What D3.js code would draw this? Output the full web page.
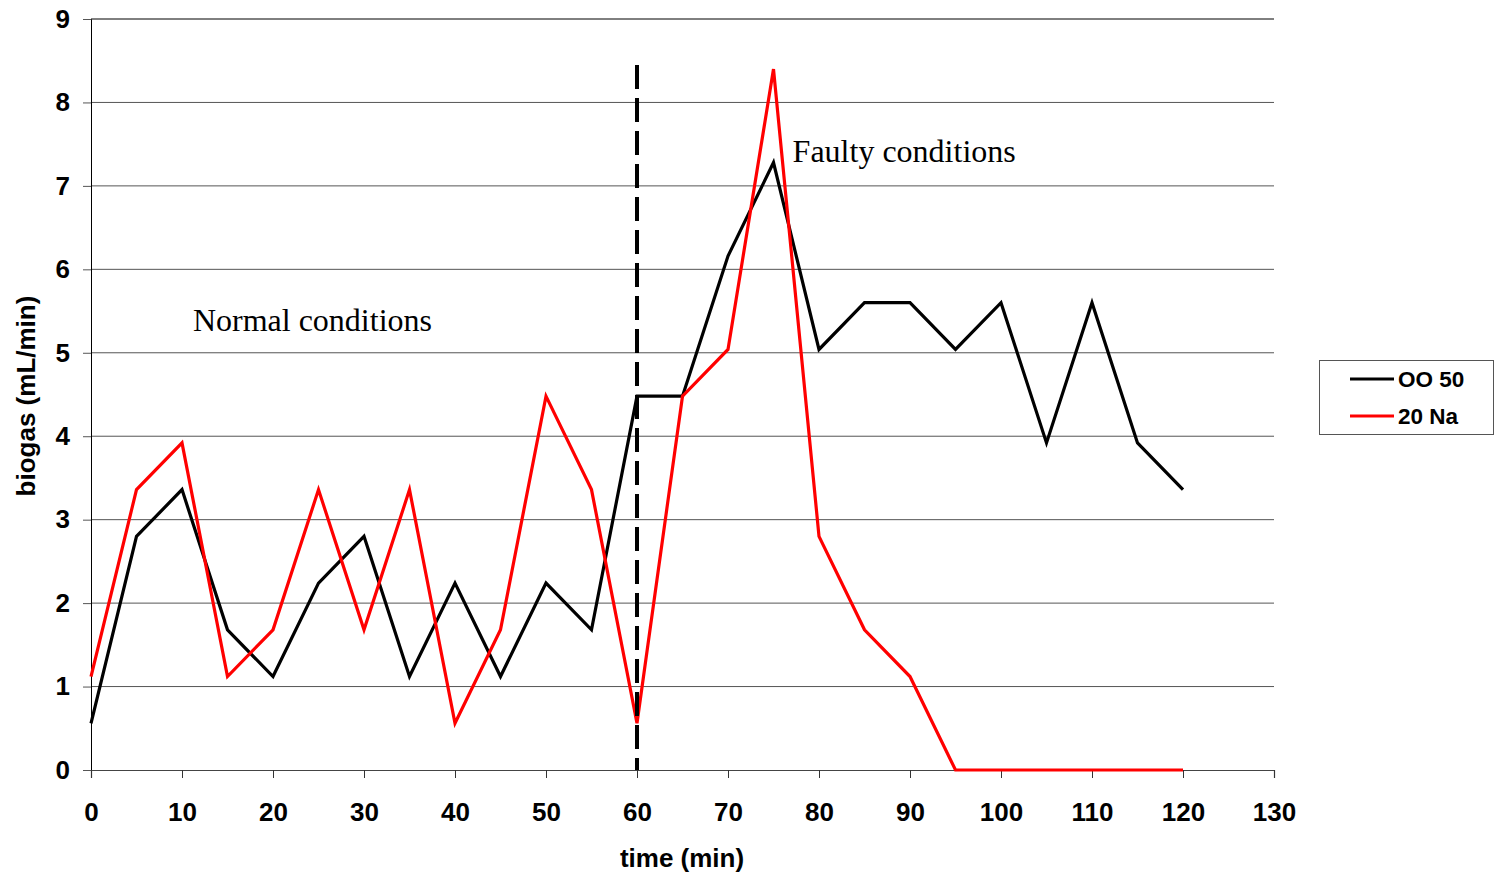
<!DOCTYPE html>
<html>
<head>
<meta charset="utf-8">
<script src="https://cdn.jsdelivr.net/npm/d3@7"></script>
<style>
  html, body { margin: 0; padding: 0; background: #fff; }
  svg { display: block; }
</style>
</head>
<body>
<svg id="chart" width="1495" height="878"></svg>
<script>
// Sampling times (min)
const times = [0, 5, 10, 15, 20, 25, 30, 35, 40, 45, 50, 55, 60,
               65, 70, 75, 80, 85, 90, 95, 100, 105, 110, 115, 120];

// Biogas production (mL/min)
const oo50 = [0.56, 2.80, 3.36, 1.68, 1.12, 2.24, 2.80, 1.12, 2.24, 1.12, 2.24, 1.68, 4.48,
              4.48, 6.16, 7.28, 5.04, 5.60, 5.60, 5.04, 5.60, 3.92, 5.60, 3.92, 3.36];
const na20 = [1.12, 3.36, 3.92, 1.12, 1.68, 3.36, 1.68, 3.36, 0.56, 1.68, 4.48, 3.36, 0.56,
              4.48, 5.04, 8.40, 2.80, 1.68, 1.12, 0, 0, 0, 0, 0, 0];

const seriesNames = ["OO 50", "20 Na"];
const seriesColors = ["#000000", "#ff0000"];

const xTicks = d3.range(0, 131, 10);
const yTicks = d3.range(0, 10, 1);

// Moment the operating conditions change, and the annotations
const faultTime = 60;
const faultLineTop = 8.45;
const annotations = [
  { text: "Normal conditions", t: 11.2, v: 5.26 },
  { text: "Faulty conditions", t: 77.1, v: 7.29 }
];

const svg = d3.select("#chart");
const plot = { left: 91, right: 1274, top: 19, bottom: 770 };

const x = d3.scaleLinear().domain([0, 130]).range([plot.left, plot.right]);
const y = d3.scaleLinear().domain([0, 9]).range([plot.bottom, plot.top]);

const sans = "Liberation Sans, Arial, sans-serif";

// Horizontal gridlines
svg.append("g")
  .selectAll("line")
  .data(yTicks.filter(d => d > 0))
  .join("line")
  .attr("x1", plot.left).attr("x2", plot.right)
  .attr("y1", d => y(d)).attr("y2", d => y(d))
  .attr("stroke", d => d === 9 ? "#000" : "#555")
  .attr("stroke-width", 1);

// Y axis
const yAxis = svg.append("g")
  .attr("transform", `translate(${plot.left},0)`)
  .call(d3.axisLeft(y).tickValues(yTicks).tickSize(8).tickPadding(13).tickFormat(d3.format("d")));
yAxis.select(".domain").attr("stroke", "#000").attr("stroke-width", 1);
yAxis.selectAll(".tick line").attr("stroke", "#555");
yAxis.selectAll("text")
  .attr("font-family", sans)
  .attr("font-weight", "bold").attr("font-size", 26).attr("fill", "#000");

// X axis
const xAxis = svg.append("g")
  .attr("transform", `translate(0,${plot.bottom})`)
  .call(d3.axisBottom(x).tickValues(xTicks).tickSize(8).tickPadding(25).tickFormat(d3.format("d")));
xAxis.select(".domain").attr("stroke", "#444").attr("stroke-width", 1.2);
xAxis.selectAll(".tick line").attr("stroke", "#333");
xAxis.selectAll("text")
  .attr("font-family", sans)
  .attr("font-weight", "bold").attr("font-size", 26).attr("fill", "#000");

// Axis titles
svg.append("text")
  .attr("x", 682).attr("y", 867)
  .attr("text-anchor", "middle")
  .attr("font-family", sans)
  .attr("font-weight", "bold").attr("font-size", 26)
  .text("time (min)");

svg.append("text")
  .attr("transform", `translate(35,396) rotate(-90)`)
  .attr("text-anchor", "middle")
  .attr("font-family", sans)
  .attr("font-weight", "bold").attr("font-size", 26)
  .text("biogas (mL/min)");

// Series lines
const line = d3.line().x((d, i) => x(times[i])).y(d => y(d));
[oo50, na20].forEach((vals, k) => {
  svg.append("path")
    .datum(vals)
    .attr("d", line)
    .attr("fill", "none")
    .attr("stroke", seriesColors[k])
    .attr("stroke-width", 3.2)
    .attr("stroke-linejoin", "miter");
});

// Dashed marker at the change of conditions
svg.append("line")
  .attr("x1", x(faultTime)).attr("x2", x(faultTime))
  .attr("y1", y(faultLineTop)).attr("y2", y(0))
  .attr("stroke", "#000").attr("stroke-width", 4)
  .attr("stroke-dasharray", "24 9");

// Annotations
svg.append("g")
  .selectAll("text")
  .data(annotations)
  .join("text")
  .attr("x", d => x(d.t)).attr("y", d => y(d.v))
  .attr("font-family", "Liberation Serif, 'Times New Roman', serif")
  .attr("font-size", 32)
  .text(d => d.text);

// Legend
const legend = svg.append("g").attr("transform", "translate(1319,360)");
legend.append("rect")
  .attr("x", 0.5).attr("y", 0.5).attr("width", 174).attr("height", 74)
  .attr("fill", "#fff").attr("stroke", "#555").attr("stroke-width", 1);
seriesNames.forEach((name, k) => {
  const yy = 19 + k * 37;
  legend.append("line")
    .attr("x1", 31).attr("x2", 75).attr("y1", yy).attr("y2", yy)
    .attr("stroke", seriesColors[k]).attr("stroke-width", 3.2);
  legend.append("text")
    .attr("x", 79).attr("y", yy + 8)
    .attr("font-family", sans)
    .attr("font-weight", "bold").attr("font-size", 22.5)
    .text(name);
});
</script>
</body>
</html>
